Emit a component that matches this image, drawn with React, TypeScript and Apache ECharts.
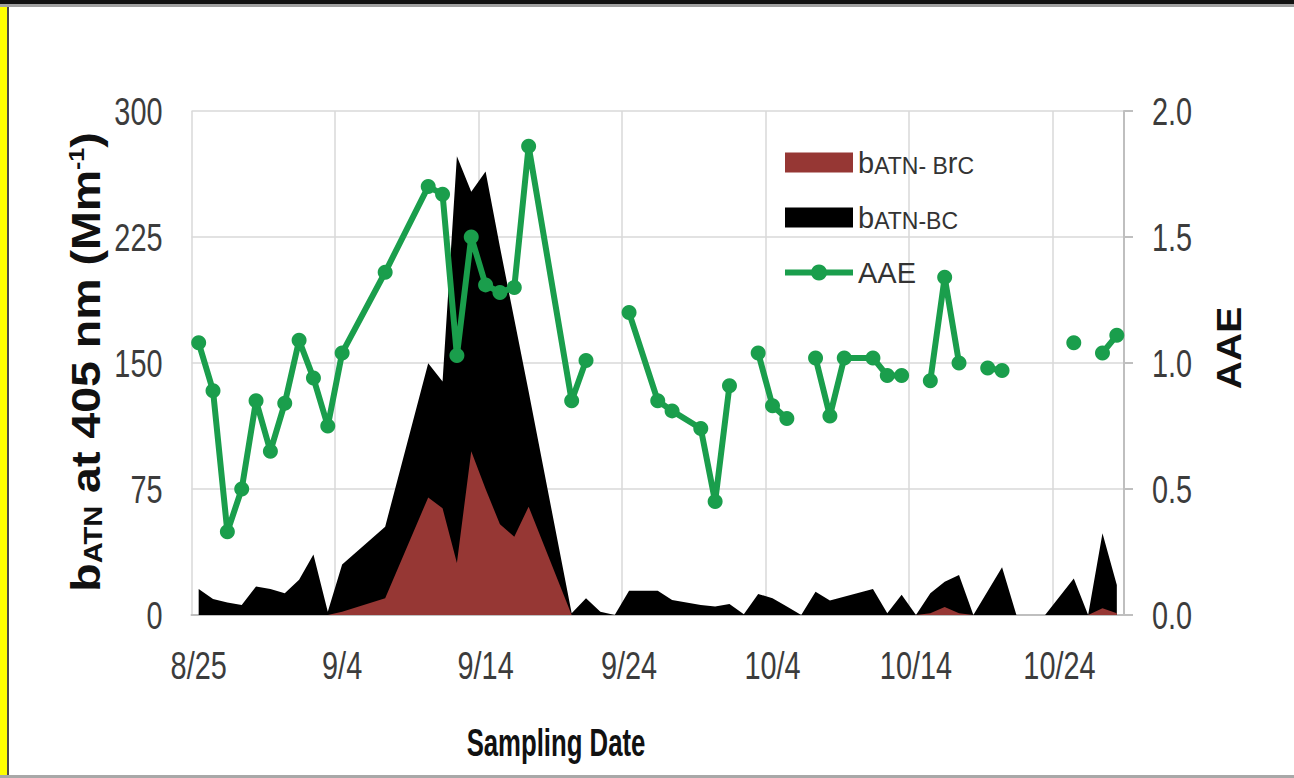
import React, { useEffect, useRef } from "react";
import * as echarts from "echarts";

// Day 0 is 8/25; every sample sits in the middle of its day slot.
const tickLabels = ["8/25", "9/4", "9/14", "9/24", "10/4", "10/14", "10/24"];
const tickDays = [0, 10, 20, 30, 40, 50, 60];
const leftTicks = [0, 75, 150, 225, 300];
const rightTicks = [0, 0.5, 1.0, 1.5, 2.0];

// Absorption coefficients at 405 nm (Mm-1)
const areaDays = [
  0, 1, 2, 3, 4, 5, 6, 7, 8, 9, 10, 13, 16, 17, 18, 19, 20, 21, 22, 23, 26, 27,
  28, 29, 30, 32, 33, 35, 36, 37, 38, 39, 40, 41, 42, 43, 44, 47, 48, 49, 50,
  51, 52, 53, 54, 56, 57, 58, 59, 61, 62, 63, 64,
];
const brcValues = [
  0, 0, 0, 0, 0, 0, 0, 0, 0, 0, 2, 10, 70, 63.5, 31, 97.5, 75, 54, 46.6, 64.5,
  0, 0, 0, 0, 0, 0, 0, 0, 0, 0, 0, 0, 0, 0, 0, 0, 0, 0, 0, 0, 0, 1, 4.8, 1, 0,
  0, 0, 0, 0, 0, 0, 4, 1,
];
const bcValues = [
  15.5, 9.5, 7.5, 6, 17, 15.5, 12.9, 21, 36, 2, 28, 42.6, 79.8, 75.5, 242,
  154.5, 189, 165, 129.4, 68.5, 1, 9.9, 2, 0, 14.5, 14.5, 9, 6, 5, 6.5, 0.5,
  12.5, 10, 5, 0, 13.9, 8.7, 15.5, 1, 12, 0, 11.9, 15, 22.8, 0, 28.4, 0, 0, 0,
  21.8, 0, 44.6, 16.9,
];

// Absorption Angstrom exponent (null = no value, line breaks)
const aaeDays = [
  0, 1, 2, 3, 4, 5, 6, 7, 8, 9, 10, 13, 16, 17, 18, 19, 20, 21, 22, 23, 26, 27,
  28, 29, 30, 32, 33, 35, 36, 37, 38, 39, 40, 41, 42, 43, 44, 45, 47, 48, 49,
  50, 51, 52, 53, 54, 55, 56, 57, 61, 62, 63, 64,
];
const aaeValues: (number | null)[] = [
  1.08, 0.89, 0.33, 0.5, 0.85, 0.65, 0.84, 1.09, 0.94, 0.75, 1.04, 1.36, 1.7,
  1.67, 1.03, 1.5, 1.31, 1.28, 1.3, 1.86, 0.85, 1.01, null, null, 1.2, 0.85,
  0.81, 0.74, 0.45, 0.91, null, 1.04, 0.83, 0.78, null, 1.02, 0.79, 1.02, 1.02,
  0.95, 0.95, null, 0.93, 1.34, 1.0, null, 0.98, 0.97, null, 1.08, null, 1.04,
  1.11,
];

const NAME_BRC = "bATN-BrC";
const NAME_BC = "bATN-BC";
const NAME_AAE = "AAE";

const BROWN = "#963734";
const BLACK = "#000000";
const GREEN = "#1a9e4c";
const GRID = "#d9d9d9";
const LABEL = "#3c3c3c";
const SANS = '"Liberation Sans", Arial, sans-serif';

const GRID_LEFT = 191.5;
const GRID_RIGHT_X = 1124;

// condensed tick label text
const tickText = (text: string, x: number, y: number, align: string) => ({
  type: "text",
  x,
  y,
  scaleX: 0.76,
  style: {
    text,
    fontSize: 38,
    fontFamily: SANS,
    fill: LABEL,
    align,
    verticalAlign: "middle",
  },
});

export default function App() {
  const ref = useRef<HTMLDivElement>(null);

  useEffect(() => {
    const chart = echarts.init(ref.current!, undefined, { renderer: "svg" });

    const slot = (d: number) => d + 0.5;
    const brcData = areaDays.map((d, i) => [slot(d), brcValues[i]]);
    // BC is stacked on top of BrC
    const totalData = areaDays.map((d, i) => [slot(d), brcValues[i] + bcValues[i]]);
    const aaeData = aaeDays.map((d, i) => [slot(d), aaeValues[i]]);

    const option: any = {
      animation: false,
      backgroundColor: "#ffffff",
      grid: { left: GRID_LEFT, right: 1294 - GRID_RIGHT_X, top: 111, bottom: 163 },
      legend: {
        orient: "vertical",
        left: 777,
        top: 143,
        itemWidth: 68,
        itemHeight: 20,
        itemGap: 26,
        selectedMode: false,
        data: [
          { name: NAME_BRC, icon: "rect" },
          { name: NAME_BC, icon: "rect" },
          { name: NAME_AAE, lineStyle: { width: 6, color: GREEN } },
        ],
        formatter: (name: string) => {
          if (name === NAME_BRC) return "{b|b}{s|ATN- B}{b|r}{s|C}";
          if (name === NAME_BC) return "{b|b}{s|ATN-BC}";
          return "{b|AAE}";
        },
        textStyle: {
          color: "#333",
          fontFamily: SANS,
          rich: {
            b: { fontSize: 29, lineHeight: 29, verticalAlign: "bottom", fontFamily: SANS, color: "#333" },
            s: { fontSize: 23, lineHeight: 23, verticalAlign: "bottom", fontFamily: SANS, color: "#333" },
          },
        },
      },
      xAxis: {
        type: "value",
        min: 0,
        max: 65,
        interval: 10,
        axisLine: { show: true, lineStyle: { color: "#bfbfbf", width: 2 } },
        axisTick: { show: false },
        splitLine: { show: true, lineStyle: { color: GRID, width: 1.5 } },
        axisLabel: { show: false },
      },
      yAxis: [
        {
          type: "value",
          min: 0,
          max: 300,
          interval: 75,
          axisLine: { show: false },
          axisTick: { show: false },
          splitLine: { show: true, lineStyle: { color: GRID, width: 1.5 } },
          axisLabel: { show: false },
        },
        {
          type: "value",
          min: 0,
          max: 2,
          interval: 0.5,
          position: "right",
          axisLine: { show: true, lineStyle: { color: "#bfbfbf", width: 2 } },
          axisTick: { show: true, inside: false, length: 9, lineStyle: { color: "#bfbfbf", width: 2 } },
          splitLine: { show: false },
          axisLabel: { show: false },
        },
      ],
      series: [
        {
          name: NAME_BC,
          type: "line",
          yAxisIndex: 0,
          data: totalData,
          symbol: "none",
          lineStyle: { width: 0, color: BLACK },
          itemStyle: { color: BLACK },
          areaStyle: { color: BLACK, opacity: 1 },
          z: 1,
        },
        {
          name: NAME_BRC,
          type: "line",
          yAxisIndex: 0,
          data: brcData,
          symbol: "none",
          lineStyle: { width: 0, color: BROWN },
          itemStyle: { color: BROWN },
          areaStyle: { color: BROWN, opacity: 1 },
          z: 2,
        },
        {
          name: NAME_AAE,
          type: "line",
          yAxisIndex: 1,
          data: aaeData,
          connectNulls: false,
          symbol: "circle",
          symbolSize: 15,
          showSymbol: true,
          lineStyle: { width: 6, color: GREEN },
          itemStyle: { color: GREEN },
          z: 3,
        },
      ],
    };

    chart.setOption(option);

    // Tick labels placed through the axes' own scales
    const xPix = (v: number) => chart.convertToPixel({ xAxisIndex: 0 }, v) as number;
    const yLeftPix = (v: number) => chart.convertToPixel({ yAxisIndex: 0 }, v) as number;
    const yRightPix = (v: number) => chart.convertToPixel({ yAxisIndex: 1 }, v) as number;
    const xBase = yLeftPix(0);

    const labels: any[] = [
      ...tickDays.map((d, i) => tickText(tickLabels[i], xPix(slot(d)), xBase + 50, "center")),
      ...leftTicks.map((v) => tickText(String(v), GRID_LEFT - 29, yLeftPix(v), "right")),
      ...rightTicks.map((v) => tickText(v.toFixed(1), GRID_RIGHT_X + 28, yRightPix(v), "left")),
    ];

    chart.setOption({
      graphic: [
        { type: "rect", shape: { x: 0, y: 0, width: 7, height: 778 }, style: { fill: "#ffff00" } },
        { type: "rect", shape: { x: 7, y: 0, width: 2, height: 778 }, style: { fill: "#4a4a4a" } },
        { type: "rect", shape: { x: 0, y: 0, width: 1294, height: 4 }, style: { fill: "#111111" } },
        { type: "rect", shape: { x: 0, y: 4, width: 1294, height: 3 }, style: { fill: "#a0a0a0" } },
        { type: "rect", shape: { x: 0, y: 775, width: 1294, height: 3 }, style: { fill: "#a8a8a8" } },
        ...labels,
        {
          type: "text",
          x: 86,
          y: 362,
          rotation: Math.PI / 2,
          scaleY: 0.87,
          style: {
            text: "{b|b}{s|ATN}{b| at 405 nm (Mm}{p|-1}{b|)}",
            align: "center",
            verticalAlign: "middle",
            rich: {
              b: { fontSize: 46.5, lineHeight: 46, fontWeight: "bold", fontFamily: SANS, fill: "#111", verticalAlign: "bottom" },
              s: { fontSize: 29, lineHeight: 29, fontWeight: "bold", fontFamily: SANS, fill: "#111", verticalAlign: "bottom" },
              p: { fontSize: 25, lineHeight: 25, fontWeight: "bold", fontFamily: SANS, fill: "#111", verticalAlign: "top" },
            },
          },
        },
        {
          type: "text",
          x: 1229,
          y: 348,
          rotation: Math.PI / 2,
          scaleY: 0.88,
          style: {
            text: "AAE",
            fontSize: 39,
            fontWeight: "bold",
            fontFamily: SANS,
            fill: "#111",
            align: "center",
            verticalAlign: "middle",
          },
        },
        {
          type: "text",
          x: 556,
          y: 742,
          scaleX: 0.66,
          style: {
            text: "Sampling Date",
            fontSize: 39,
            fontWeight: "bold",
            fontFamily: SANS,
            fill: "#111",
            align: "center",
            verticalAlign: "middle",
          },
        },
      ],
    });

    return () => chart.dispose();
  }, []);

  return (
    <div
      ref={ref}
      style={{ position: "fixed", left: 0, top: 0, width: 1294, height: 778, background: "#ffffff" }}
    />
  );
}
